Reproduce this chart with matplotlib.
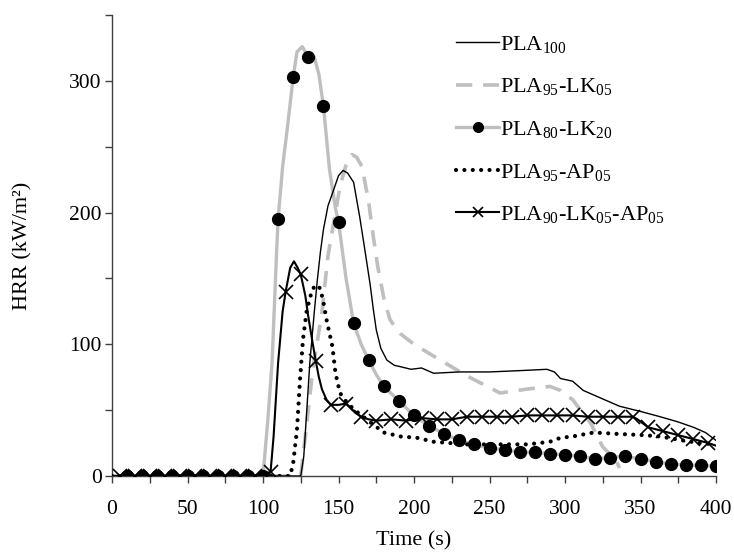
import matplotlib
matplotlib.use("Agg")
import matplotlib.pyplot as plt
import numpy as np

plt.rcParams['font.family'] = ['Liberation Serif', 'DejaVu Serif']
plt.rcParams['mathtext.fontset'] = 'custom'
plt.rcParams['mathtext.rm'] = 'Liberation Serif'
plt.rcParams['mathtext.default'] = 'regular'

# PLA100 (thin black)
t_pla100 = [0, 125, 127, 129, 131, 134, 136, 138, 140, 143, 147, 150, 153, 156, 160, 164,
            167, 169, 171, 173, 175, 178, 182, 187, 191, 198, 205, 213, 230, 250, 270,
            288, 293, 297, 305, 309, 312, 322, 336, 350, 363, 375, 385, 393, 400]
v_pla100 = [0, 0, 15, 50, 86, 125, 149, 170, 187, 205, 218, 228, 232, 230, 223, 197,
            175, 160, 145, 127, 111, 97, 88, 84, 83, 81, 82, 78, 79, 79, 80,
            81, 79, 74, 72, 68, 65, 60, 53, 49, 45, 41, 37, 33, 27]

# PLA95-LK05 (grey dashed)
t_lk05 = [0, 125, 128, 133, 139, 143, 146, 151, 155, 159, 162, 165.5, 170, 172, 176, 180,
          184, 188, 191, 200, 213, 235, 257, 275, 290, 297, 305, 317, 325, 334, 336]
v_lk05 = [0, 0, 30, 81, 124, 167, 187, 220, 236, 244, 242, 235, 208, 190, 159, 135,
          119, 112, 108, 100, 91, 76, 63, 66, 68, 65, 58, 40, 22, 12, 6]

# PLA80-LK20 (grey line, round markers every 10 s)
t_lk20 = [0, 10, 20, 30, 40, 50, 60, 70, 80, 90, 100, 103, 106, 109, 110, 113, 116, 120,
          122.5, 126, 128, 130, 134, 137, 140, 144, 148, 150, 155, 160, 165, 170, 175, 180,
          190, 200, 210, 220, 230, 240, 250, 260, 270, 280, 290, 300, 310, 320, 330, 340,
          350, 360, 370, 380, 390, 400]
v_lk20 = [0, 0, 0, 0, 0, 0, 0, 0, 0, 0, 0, 40, 86, 170, 195, 235, 263, 303,
          322, 326, 322, 318, 318, 305, 281, 233, 203, 193, 150, 116, 100, 88, 77, 68,
          57, 46, 38, 32, 27, 24, 21, 20, 18, 18, 17, 16, 15, 13, 14, 15,
          13, 11, 9, 8.5, 8, 7.5]

# PLA95-AP05 (black dotted)
t_ap05 = [0, 118, 120, 122.5, 124.5, 126.5, 129, 132, 134, 136, 138, 140, 142, 146, 148,
          151, 156, 163, 172, 180, 191, 202, 213, 235, 257, 275, 290, 297, 305, 319, 334,
          352, 363, 378, 389, 400]
v_ap05 = [0, 0, 10, 35, 73, 104, 126, 139, 144, 145, 142, 132, 119, 98, 78,
          63, 55, 48, 40, 33, 30, 29, 26, 24, 24, 24, 26, 29, 30, 33, 32,
          31, 30, 27, 25, 24]

# PLA90-LK05-AP05 (black line, cross markers every 10 s)
t_mix = [0, 5, 15, 25, 35, 45, 55, 65, 75, 85, 95, 105, 107, 110, 113, 115, 118, 120.5,
         123, 125, 128, 130, 133, 135, 137, 139, 142, 145, 150, 155, 158, 161, 165, 170,
         175, 185, 195, 205, 215, 225, 235, 245, 255, 265, 275, 285, 295, 305, 315, 325,
         335, 345, 348, 355, 365, 375, 385, 395, 400]
v_mix = [0, 0, 0, 0, 0, 0, 0, 0, 0, 0, 0, 3, 30, 86, 125, 140, 158, 163,
         158, 153, 137, 121, 100, 87, 75, 66, 58, 54, 54, 55, 52, 48, 45, 43,
         42, 43, 42, 44, 43, 43, 45, 45, 45, 45, 46, 46, 46, 46, 45, 45,
         45, 45, 43, 37, 34, 31, 28, 25, 23]

grey = '#bfbfbf'

fig = plt.figure(figsize=(7.34, 5.56), dpi=100)
ax = fig.add_axes([0.1526, 0.1439, 0.8229, 0.8291])

ax.plot(t_pla100, v_pla100, color='black', lw=1.0, label='PLA$_{100}$', zorder=3)
ax.plot(t_lk05, v_lk05, color=grey, lw=2.6, dashes=(4.5, 3), label='PLA$_{95}$-LK$_{05}$', zorder=2)

t20 = np.array(t_lk20)
ax.plot(t_lk20, v_lk20, color=grey, lw=2.4, marker='o', ms=8.5, mfc='black', mec='black',
        markevery=list((t20 % 10 == 0) & (t20 > 0)), label='PLA$_{80}$-LK$_{20}$', zorder=2)
ax.plot(t_ap05, v_ap05, color='black', lw=3.0, dashes=(0.01, 2.0), dash_capstyle='round',
        solid_capstyle='round', label='PLA$_{95}$-AP$_{05}$', zorder=3)

tm = np.array(t_mix)
ax.plot(t_mix, v_mix, color='black', lw=1.5, marker='x', ms=10, mew=1.2,
        markevery=list(tm % 10 == 5), label='PLA$_{90}$-LK$_{05}$-AP$_{05}$', zorder=4)

ax.set_xlim(0, 400)
ax.set_ylim(0, 350)
ax.set_xticks(np.arange(0, 401, 25))
ax.set_xticklabels([str(x) if x % 50 == 0 else '' for x in range(0, 401, 25)])
ax.set_yticks(np.arange(0, 351, 50))
ax.set_yticklabels([str(y) if y % 100 == 0 else '' for y in range(0, 351, 50)])

for s in ['top', 'right']:
    ax.spines[s].set_visible(False)
for s in ['left', 'bottom']:
    ax.spines[s].set_color('#404040')
    ax.spines[s].set_linewidth(1.0)
ax.tick_params(direction='out', length=5, width=1.0, color='#404040', labelsize=15.5)
ax.tick_params(axis='x', pad=12)
ax.tick_params(axis='y', pad=2.5)

ax.set_xlabel('Time (s)', fontsize=16)
ax.set_ylabel('HRR (kW/m²)', fontsize=16)
ax.xaxis.set_label_coords(0.5, -0.12)
ax.yaxis.set_label_coords(-0.131, 0.5)

leg = ax.legend(loc='upper left', bbox_to_anchor=(0.594, 0.975), bbox_transform=fig.transFigure,
                frameon=False, fontsize=16, handlelength=1.95, handletextpad=0.05,
                labelspacing=0.97, numpoints=1)
for h in leg.legend_handles:
    h.set_markersize(7)

fig.savefig('out.png', dpi=100)
